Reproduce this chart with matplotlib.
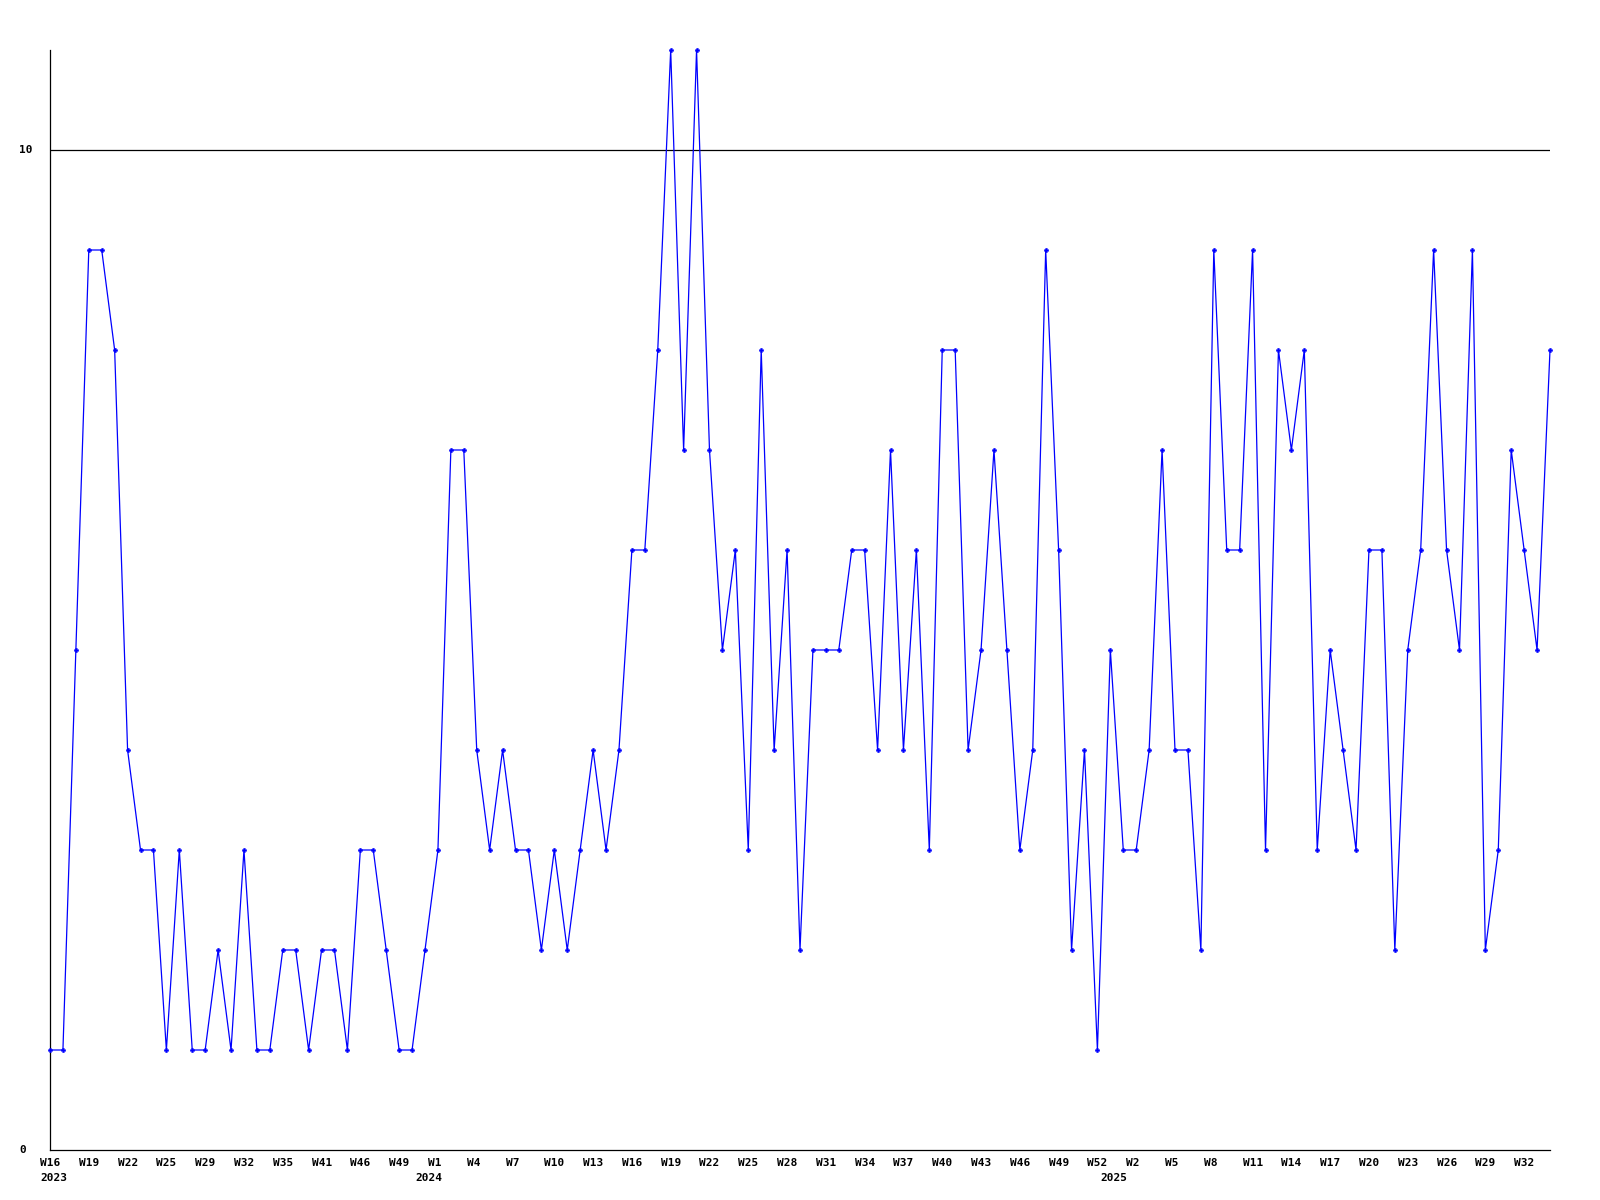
import matplotlib
matplotlib.use("Agg")
import matplotlib.pyplot as plt
import matplotlib.transforms as mtransforms

# Weekly counts, one point per reported week
values = [1, 1, 5, 9, 9, 8, 4, 3, 3, 1,
          3, 1, 1, 2, 1, 3, 1, 1, 2, 2,
          1, 2, 2, 1, 3, 3, 2, 1, 1, 2,
          3, 7, 7, 4, 3, 4, 3, 3, 2, 3,
          2, 3, 4, 3, 4, 6, 6, 8, 11, 7,
          11, 7, 5, 6, 3, 8, 4, 6, 2, 5,
          5, 5, 6, 6, 4, 7, 4, 6, 3, 8,
          8, 4, 5, 7, 5, 3, 4, 9, 6, 2,
          4, 1, 5, 3, 3, 4, 7, 4, 4, 2,
          9, 6, 6, 9, 3, 8, 7, 8, 3, 5,
          4, 3, 6, 6, 2, 5, 6, 9, 6, 5,
          9, 2, 3, 7, 6, 5, 8]

# Tick labels, every third point
week_labels = ["W16", "W19", "W22", "W25", "W29", "W32", "W35", "W41", "W46", "W49",
               "W1", "W4", "W7", "W10", "W13", "W16", "W19", "W22", "W25", "W28",
               "W31", "W34", "W37", "W40", "W43", "W46", "W49", "W52", "W2", "W5",
               "W8", "W11", "W14", "W17", "W20", "W23", "W26", "W29", "W32"]
label_step = 3
year_labels = ["2023", "2024", "2025"]
year_positions = [0, 29, 82]
y_ticks = [0, 10]

W, H = 1600, 1200
fig = plt.figure(figsize=(16, 12), dpi=100)
ax = fig.add_axes([50 / W, 50 / H, 1500 / W, 1100 / H])

x = list(range(len(values)))
ax.plot(x, values, color="#0000ff", lw=0.9, marker="P", markersize=3.2,
        markeredgewidth=0.3, markerfacecolor="#0000ff", markeredgecolor="#0000ff",
        zorder=3, clip_on=False)

ax.set_xlim(0, len(values) - 1)
ax.set_ylim(0, 11)

ax.axhline(10, color="black", lw=0.9, zorder=2)

for s in ["top", "right"]:
    ax.spines[s].set_visible(False)
for s in ["left", "bottom"]:
    ax.spines[s].set_color("black")
    ax.spines[s].set_linewidth(0.9)

ax.set_xticks([])
ax.set_yticks([])

font = dict(family="DejaVu Sans Mono", fontweight="bold", fontsize=8, color="black")

# x labels: left aligned ~10px before the point
off = mtransforms.ScaledTranslation(-10 / 100, 0, fig.dpi_scale_trans)
trans_x = mtransforms.blended_transform_factory(ax.transData, fig.transFigure) + off
for k, lab in enumerate(week_labels):
    ax.text(k * label_step, 1 - 1163 / H, lab, transform=trans_x,
            ha="left", va="center", **font)
for yl, pos in zip(year_labels, year_positions):
    ax.text(pos, 1 - 1178 / H, yl, transform=trans_x,
            ha="left", va="center", **font)

# y labels
trans_y = mtransforms.blended_transform_factory(fig.transFigure, ax.transData)
for v in y_ticks:
    ax.text(19 / W, v, str(v), transform=trans_y, ha="left", va="center", **font)

fig.savefig("out.png", dpi=100, facecolor="white")
